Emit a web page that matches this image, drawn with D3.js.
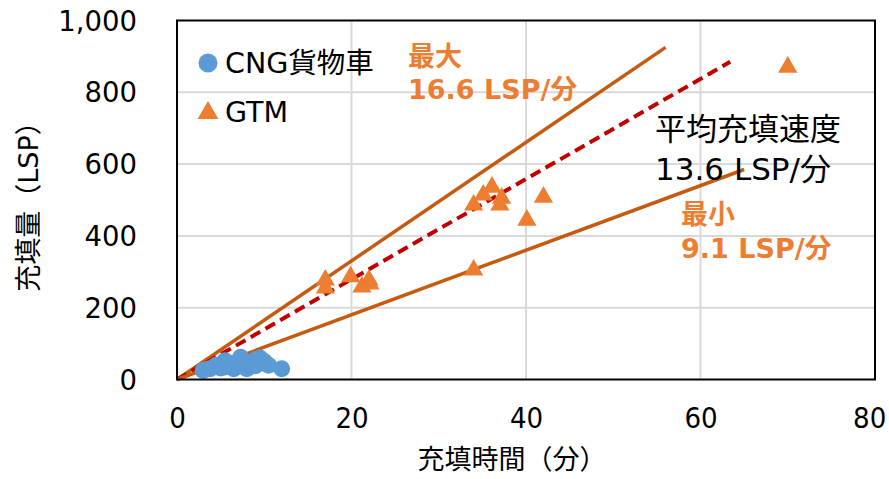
<!DOCTYPE html>
<html>
<head>
<meta charset="utf-8">
<script src="https://cdn.jsdelivr.net/npm/d3@7"></script>
<style>
  body { margin: 0; background: #fff; }
  text { font-family: "DejaVu Sans", "Noto Sans CJK JP", sans-serif; }
</style>
</head>
<body>
<div id="d3-container"></div>
<script>
/**
 * CONSTANTS AND GLOBALS
 * */
const width = 889,
  height = 479,
  margin = { top: 20.5, bottom: 99.5, left: 177, right: 14 };

// CNG貨物車 points: [充填時間(分), 充填量(LSP)]
const cngTime = [3.0, 3.8, 4.5, 5.0, 5.5, 5.5, 6.0, 6.5, 7.0, 7.3, 7.5, 8.0, 8.3, 8.5, 9.0, 9.0, 9.5, 10.0, 10.5, 12.0];
const cngLsp  = [25, 30, 40, 32, 35, 52, 45, 30, 50, 62, 40, 30, 35, 45, 55, 38, 60, 50, 40, 30];

// GTM points
const gtmTime = [17.0, 17.0, 19.9, 21.2, 22.1, 22.0, 34.0, 34.0, 35.1, 36.1, 37.0, 37.2, 40.1, 42.0, 70.0];
const gtmLsp  = [277, 255, 286, 258, 266, 277, 305, 486, 514, 536, 486, 505, 444, 508, 870];

// reference lines from origin to end point
const refLines = [
  { name: "max", x1: 56.0, y1: 925 },
  { name: "mean", x1: 63.4, y1: 885 },
  { name: "min", x1: 65.0, y1: 585 }
];

const xTicks = [0, 20, 40, 60, 80];
const yTicks = [0, 200, 400, 600, 800, 1000];

const legendLabels = ["CNG貨物車", "GTM"];

const blue = "#5B9BD5",
  orange = "#ED7D31",
  lineOrange = "#C55A11",
  dashRed = "#C00000";

let svg, xScale, yScale;

function init() {
  svg = d3.select("#d3-container")
    .append("svg")
    .attr("width", width)
    .attr("height", height);

  xScale = d3.scaleLinear()
    .domain([0, 80])
    .range([margin.left, 875]);

  yScale = d3.scaleLinear()
    .domain([0, 1000])
    .range([height - margin.bottom, margin.top]);

  // gridlines
  svg.append("g")
    .selectAll("line.hgrid")
    .data(yTicks.filter(d => d > 0 && d < 1000))
    .join("line")
    .attr("class", "hgrid")
    .attr("x1", xScale(0)).attr("x2", xScale(80))
    .attr("y1", d => yScale(d)).attr("y2", d => yScale(d))
    .attr("stroke", "#D9D9D9").attr("stroke-width", 2);

  svg.append("g")
    .selectAll("line.vgrid")
    .data(xTicks.filter(d => d > 0 && d < 80))
    .join("line")
    .attr("class", "vgrid")
    .attr("y1", yScale(0)).attr("y2", yScale(1000))
    .attr("x1", d => xScale(d)).attr("x2", d => xScale(d))
    .attr("stroke", "#D9D9D9").attr("stroke-width", 2);

  // AXES (labels only, frame drawn below)
  const yAxis = d3.axisLeft(yScale).tickValues(yTicks).tickSize(0).tickPadding(40)
    .tickFormat(d3.format(","));
  svg.append("g")
    .attr("transform", `translate(${xScale(0)},0)`)
    .call(yAxis)
    .call(g => g.select(".domain").remove())
    .selectAll("text")
    .style("font-size", "27.5px")
    .attr("fill", "#000")
    .attr("dy", "0.35em");

  const xAxis = d3.axisBottom(xScale).tickValues(xTicks).tickSize(0).tickPadding(28);
  svg.append("g")
    .attr("transform", `translate(0,${yScale(0)})`)
    .call(xAxis)
    .call(g => g.select(".domain").remove())
    .selectAll("text")
    .style("font-size", "29px")
    .style("font-stretch", "condensed")
    .style("font-family", "'DejaVu Sans Condensed', 'DejaVu Sans', sans-serif")
    .attr("fill", "#000")
    .attr("dx", d => d === 80 ? "-0.2em" : 0);

  // axis titles
  svg.append("text")
    .attr("x", 512)
    .attr("y", 469)
    .attr("text-anchor", "middle")
    .style("font-size", "27px")
    .text("充填時間（分）");

  svg.append("text")
    .attr("transform", `translate(38,${200}) rotate(-90)`)
    .attr("text-anchor", "middle")
    .style("font-size", "27px")
    .text("充填量（LSP）");

  // reference lines
  const lineFunc = d3.line().x(d => xScale(d[0])).y(d => yScale(d[1]));
  svg.append("g")
    .selectAll("path.ref")
    .data(refLines)
    .join("path")
    .attr("class", "ref")
    .attr("fill", "none")
    .attr("d", d => lineFunc([[0, 0], [d.x1, d.y1]]))
    .attr("stroke", d => d.name === "mean" ? dashRed : lineOrange)
    .attr("stroke-width", d => d.name === "mean" ? 4 : 3.5)
    .attr("stroke-dasharray", d => d.name === "mean" ? "11,6" : null);

  // CNG circles
  const cngData = cngTime.map((t, i) => ({ t, v: cngLsp[i] }));
  svg.append("g")
    .selectAll("circle.cng")
    .data(cngData)
    .join("circle")
    .attr("class", "cng")
    .attr("cx", d => xScale(d.t))
    .attr("cy", d => yScale(d.v))
    .attr("r", 8.5)
    .attr("fill", blue);

  // GTM triangles
  const tri = d3.symbol().type(d3.symbolTriangle).size(160);
  const gtmData = gtmTime.map((t, i) => ({ t, v: gtmLsp[i] }));
  svg.append("g")
    .selectAll("path.gtm")
    .data(gtmData)
    .join("path")
    .attr("class", "gtm")
    .attr("d", tri)
    .attr("transform", d => `translate(${xScale(d.t)},${yScale(d.v)})`)
    .attr("fill", orange);

  // plot frame
  svg.append("rect")
    .attr("x", xScale(0)).attr("y", yScale(1000))
    .attr("width", xScale(80) - xScale(0))
    .attr("height", yScale(0) - yScale(1000))
    .attr("fill", "none")
    .attr("stroke", "#000")
    .attr("stroke-width", 2);

  // legend
  const legend = svg.append("g");
  legend.append("circle")
    .attr("cx", 208).attr("cy", 63).attr("r", 9.5).attr("fill", blue);
  legend.append("path")
    .attr("d", d3.symbol().type(d3.symbolTriangle).size(190))
    .attr("transform", "translate(208,113)")
    .attr("fill", orange);
  legend.selectAll("text")
    .data(legendLabels)
    .join("text")
    .attr("x", 225)
    .attr("y", (d, i) => 73 + i * 49)
    .style("font-size", "28.5px")
    .text(d => d);

  // annotations
  const notes = [
    { x: 408, y: 66, t: "最大", bold: true, c: orange, s: 27 },
    { x: 408, y: 99, t: "16.6 LSP/分", bold: true, c: orange, s: 27 },
    { x: 655, y: 140, t: "平均充填速度", bold: false, c: "#000", s: 31 },
    { x: 655, y: 180, t: "13.6 LSP/分", bold: false, c: "#000", s: 31 },
    { x: 681, y: 224, t: "最小", bold: true, c: orange, s: 27 },
    { x: 681, y: 258, t: "9.1 LSP/分", bold: true, c: orange, s: 27 }
  ];
  svg.append("g")
    .selectAll("text")
    .data(notes)
    .join("text")
    .attr("x", d => d.x)
    .attr("y", d => d.y)
    .attr("fill", d => d.c)
    .style("font-size", d => d.s + "px")
    .style("font-weight", d => d.bold ? "bold" : "normal")
    .text(d => d.t);
}

init();
</script>
</body>
</html>
